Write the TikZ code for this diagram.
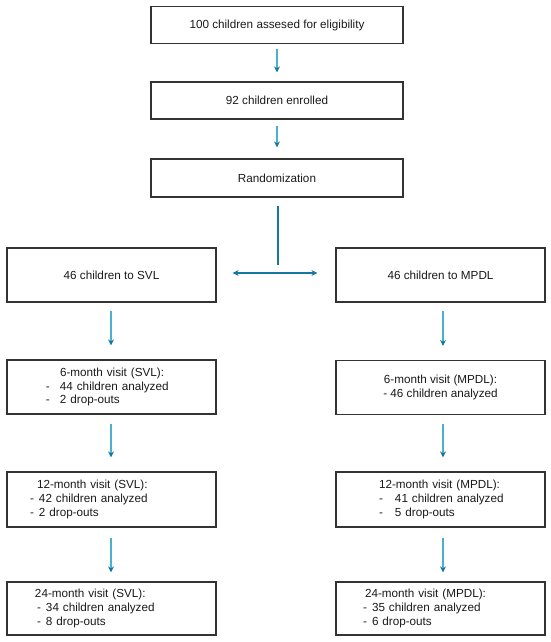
\documentclass[tikz,border=0pt]{standalone}
\usepackage{fontspec}
\setmainfont{Liberation Sans}
\usetikzlibrary{arrows.meta}
\definecolor{flowblue}{RGB}{75,175,205}
\definecolor{splitblue}{RGB}{20,120,160}
\newcommand{\armitem}[3]{\hspace*{#1}\makebox[#2][l]{-}#3}

\begin{document}
\begin{tikzpicture}[x=1pt,y=-1pt,
  every node/.style={font=\fontsize{11.7}{13.6}\selectfont, text=black!90},
  box/.style={draw=black!80, line width=1.2pt, inner sep=0pt},
  wide/.style={box, minimum width=252pt, minimum height=37pt},
  arm/.style={box, minimum width=209pt, minimum height=54pt},
  armlist/.style={arm, text width=209pt, align=left},
  flow/.style={line width=1.5pt, flowblue, -{Stealth[length=6pt,width=6pt,color=splitblue]}}]
\useasboundingbox (0,0) rectangle (550,642);
\node[wide] (assess) at (277,25) {100 children assesed for eligibility};
\node[wide] (enrol) at (277,100.5) {92 children enrolled};
\node[wide, minimum height=38pt] (rand) at (277,178) {Randomization};
\node[arm] (svl) at (111.5,275) {46 children to SVL};
\node[arm] (mpdl) at (440.5,275) {46 children to MPDL};
% SVL arm
\node[armlist] (svlsix) at (111.5,387) {\hspace*{53pt}6-month visit (SVL):\\
  \armitem{39pt}{14pt}{44 children analyzed}\\ \armitem{39pt}{14pt}{2 drop-outs}};
\node[armlist, minimum height=55pt] (svltwelve) at (111.5,499.5) {\hspace*{30pt}12-month visit (SVL):\\
  \armitem{23pt}{9pt}{42 children analyzed}\\ \armitem{23pt}{9pt}{2 drop-outs}};
\node[armlist, minimum height=53pt] (svlfour) at (111.5,608.5) {\hspace*{28pt}24-month visit (SVL):\\
  \armitem{30pt}{9pt}{34 children analyzed}\\ \armitem{30pt}{9pt}{8 drop-outs}};
% MPDL arm
\node[arm, align=center] (mpdlsix) at (440.5,387.5) {6-month visit (MPDL):\\- 46 children analyzed};
\node[armlist, minimum height=55pt] (mpdltwelve) at (440.5,499.5) {\hspace*{43pt}12-month visit (MPDL):\\
  \armitem{43pt}{16pt}{41 children analyzed}\\ \armitem{43pt}{16pt}{5 drop-outs}};
\node[armlist, minimum height=53pt] (mpdlfour) at (440.5,608.5) {\hspace*{29pt}24-month visit (MPDL):\\
  \armitem{27pt}{9pt}{35 children analyzed}\\ \armitem{27pt}{9pt}{6 drop-outs}};
% connectors
\draw[flow] ([yshift=-5pt]assess.south) -- ([yshift=9pt]enrol.north);
\draw[flow] ([yshift=-6pt]enrol.south) -- ([yshift=11pt]rand.north);
\coordinate (split) at (278,265);
\draw[line width=1.5pt, splitblue] ([xshift=1pt,yshift=-8pt]rand.south) -- (split);
\draw[line width=1.4pt, splitblue, {Stealth[length=6pt,width=6pt]}-{Stealth[length=6pt,width=6pt]}] ([xshift=16pt,yshift=2pt]svl.east) -- ([xshift=-18pt,yshift=2pt]mpdl.west);
\draw[flow] ([xshift=-0.5pt,yshift=-8pt]svl.south) -- ([xshift=-0.5pt,yshift=14pt]svlsix.north);
\draw[flow] ([xshift=-0.5pt,yshift=-9pt]svlsix.south) -- ([xshift=-0.5pt,yshift=14pt]svltwelve.north);
\draw[flow] ([xshift=-0.5pt,yshift=-10pt]svltwelve.south) -- ([xshift=-0.5pt,yshift=9pt]svlfour.north);
\draw[flow] ([xshift=2.5pt,yshift=-8pt]mpdl.south) -- ([xshift=2.5pt,yshift=14pt]mpdlsix.north);
\draw[flow] ([xshift=2.5pt,yshift=-9pt]mpdlsix.south) -- ([xshift=2.5pt,yshift=14pt]mpdltwelve.north);
\draw[flow] ([xshift=2.5pt,yshift=-10pt]mpdltwelve.south) -- ([xshift=2.5pt,yshift=9pt]mpdlfour.north);
\end{tikzpicture}
\end{document}
